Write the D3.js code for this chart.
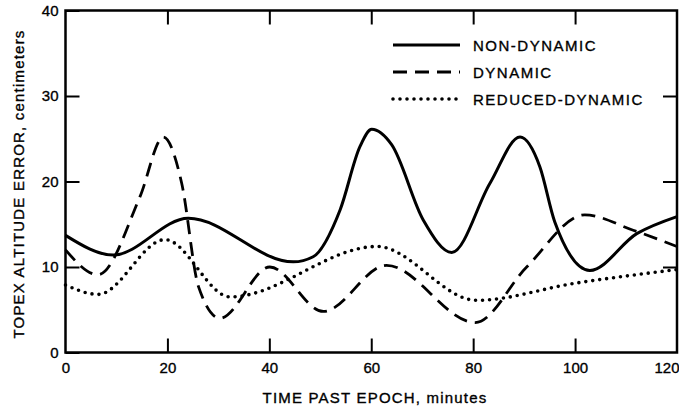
<!DOCTYPE html>
<html lang="en">
<head>
<meta charset="utf-8">
<title>TOPEX altitude error</title>
<script src="https://d3js.org/d3.v7.min.js"></script>
<style>
  body { margin: 0; background: #fff; }
  svg { display: block; font-family: "Liberation Sans", Arial, sans-serif; }
  svg text { stroke: #000; stroke-width: 0.35px; }
  .tick text { font-size: 15px; fill: #000; }
  .tick line { stroke: #000; stroke-width: 2; }
</style>
</head>
<body>
<svg width="679" height="409"></svg>
<script>
// data: [minutes, centimeters]
var nonDynamic = [[0,13.7],[9.4,11.4],[24.1,15.7],[44.7,10.6],[48.6,11.2],[53.9,16.7],[57.8,24.1],[60.1,26.1],
  [64,24.3],[70.2,15.5],[75.8,11.7],[83.3,19.8],[89.2,25.2],[93.1,21.7],[96,15.3],[102.9,9.6],
  [112.1,13.9],[120,15.9]];
var dynamic = [[0,12.0],[6.4,9.1],[14.6,18.2],[19.2,25.2],[22.8,19.8],[26.1,7.7],[30.3,4.0],
  [40.1,10.0],[50.6,4.8],[63,10.2],[80.4,3.5],[90.5,10.0],[101.9,16.1],[111.4,14.3],[120,12.4]];
var reducedDynamic = [[0,7.9],[6.4,6.8],[19.5,13.2],[32.3,6.5],[61.1,12.4],[80.7,6.1],[100,8.1],[120,9.7]];

var xTicks = [0, 20, 40, 60, 80, 100, 120];
var yTicks = [0, 10, 20, 30, 40];
var seriesNames = ["NON-DYNAMIC", "DYNAMIC", "REDUCED-DYNAMIC"];

var svg = d3.select("svg");
var plotLeft = 65.5, plotRight = 677, plotTop = 10.5, plotBottom = 352.5;

var x = d3.scaleLinear().domain([0, 120]).range([plotLeft, plotRight]);
var y = d3.scaleLinear().domain([0, 40]).range([plotBottom, plotTop]);

// axes with inward ticks
svg.append("g").attr("transform", "translate(" + plotLeft + ",0)")
  .call(d3.axisLeft(y).tickValues(yTicks).tickSize(-14).tickPadding(7))
  .call(function(g) { g.select(".domain").remove(); });
svg.append("g").attr("transform", "translate(" + plotRight + ",0)")
  .call(d3.axisRight(y).tickValues(yTicks.slice(1, 4)).tickSize(-14).tickFormat(""))
  .call(function(g) { g.select(".domain").remove(); });
svg.append("g").attr("transform", "translate(0," + plotBottom + ")")
  .call(d3.axisBottom(x).tickValues(xTicks.slice(1, 6)).tickSize(-14).tickPadding(10))
  .call(function(g) { g.select(".domain").remove(); });
// end labels without ticks
svg.append("g").attr("transform", "translate(0," + plotBottom + ")")
  .call(d3.axisBottom(x).tickValues([0, 120]).tickSize(0).tickPadding(10))
  .call(function(g) { g.select(".domain").remove(); })
  .selectAll(".tick text").filter(function(d) { return d === 120; })
  .attr("text-anchor", "end").attr("dx", "2");
svg.append("g").attr("transform", "translate(0," + plotTop + ")")
  .call(d3.axisTop(x).tickValues(xTicks.slice(1, 6)).tickSize(-14).tickFormat(""))
  .call(function(g) { g.select(".domain").remove(); });

svg.append("rect")
  .attr("x", plotLeft).attr("y", plotTop)
  .attr("width", plotRight - plotLeft).attr("height", plotBottom - plotTop)
  .attr("fill", "none").attr("stroke", "#000").attr("stroke-width", 2.5);

var line = d3.line()
  .x(function(d) { return x(d[0]); })
  .y(function(d) { return y(d[1]); })
  .curve(d3.curveMonotoneX);

var styles = [
  { dash: null, width: 3, cap: "butt" },
  { dash: "14 8", width: 2.8, cap: "butt" },
  { dash: "0 7", width: 3.6, cap: "round" }
];

[nonDynamic, dynamic, reducedDynamic].forEach(function(s, i) {
  svg.append("path")
    .datum(s)
    .attr("d", line)
    .attr("fill", "none")
    .attr("stroke", "#000")
    .attr("stroke-width", styles[i].width)
    .attr("stroke-dasharray", styles[i].dash)
    .attr("stroke-linecap", styles[i].cap);
});

// legend
var legend = svg.append("g");
seriesNames.forEach(function(name, i) {
  var ly = 45 + i * 27;
  legend.append("line")
    .attr("x1", 393).attr("x2", 460).attr("y1", ly).attr("y2", ly)
    .attr("stroke", "#000")
    .attr("stroke-width", styles[i].width)
    .attr("stroke-dasharray", styles[i].dash)
    .attr("stroke-linecap", styles[i].cap);
  legend.append("text")
    .attr("x", 473).attr("y", ly + 6)
    .attr("font-size", 15).attr("letter-spacing", 1.5)
    .text(name);
});

// axis titles
svg.append("text")
  .attr("x", 375).attr("y", 403)
  .attr("text-anchor", "middle")
  .attr("font-size", 15).attr("letter-spacing", 1.2)
  .text("TIME PAST EPOCH, minutes");
svg.append("text")
  .attr("transform", "translate(24,184) rotate(-90)")
  .attr("text-anchor", "middle")
  .attr("font-size", 15).attr("letter-spacing", 1.2)
  .text("TOPEX ALTITUDE ERROR, centimeters");
</script>
</body>
</html>
